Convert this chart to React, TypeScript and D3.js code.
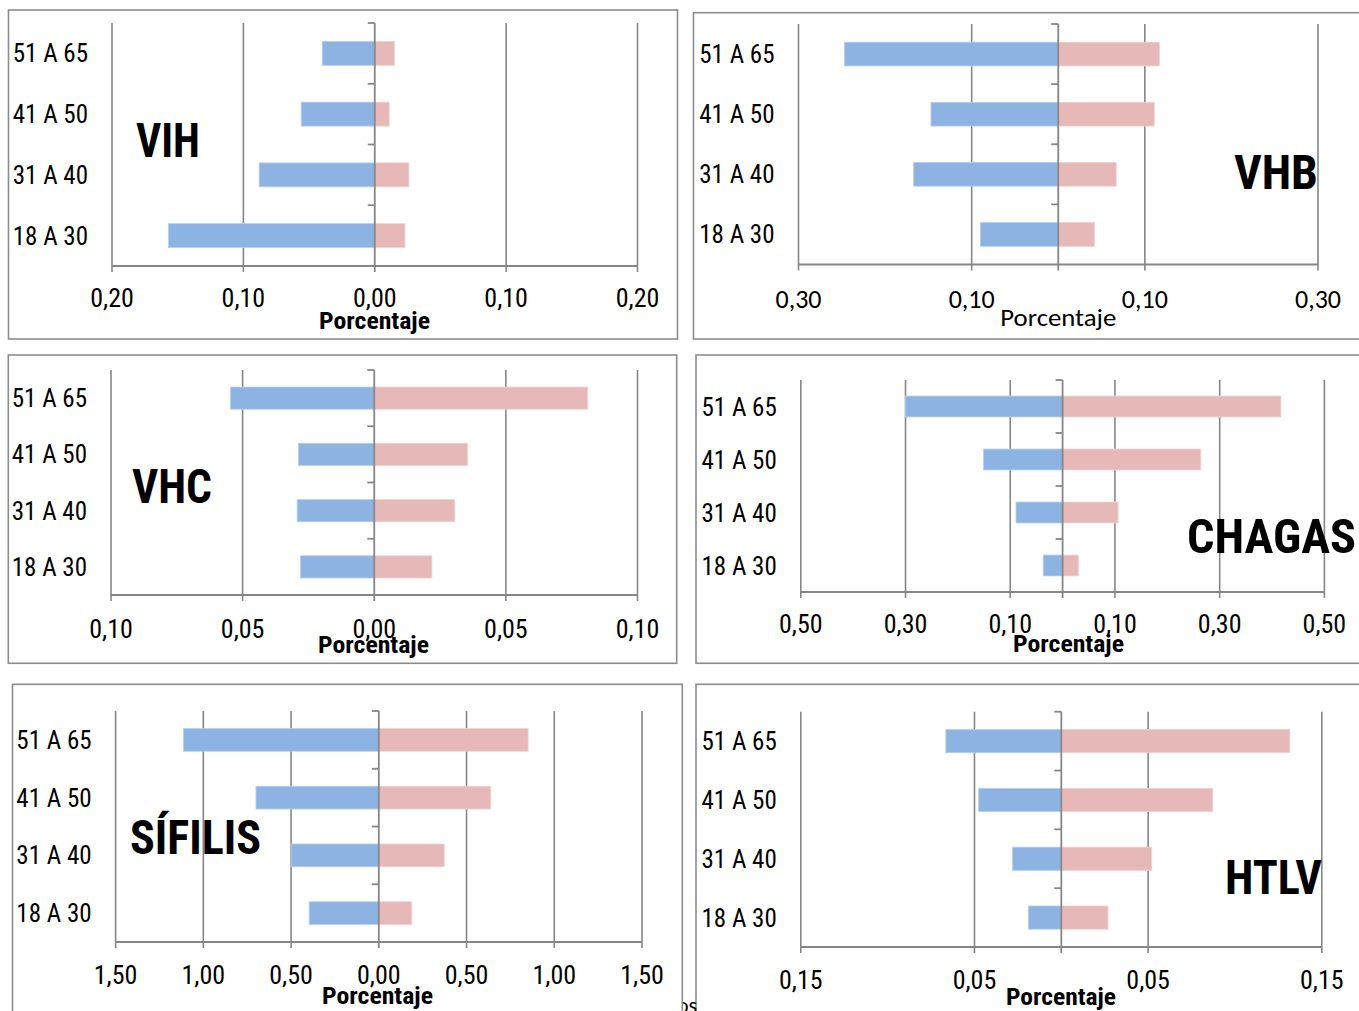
import React from "react";
import * as d3 from "d3";

// ---------- DATA ----------
const categories = ["51 A 65", "41 A 50", "31 A 40", "18 A 30"];

const vihBlue = [0.04, 0.056, 0.088, 0.157];
const vihPink = [0.015, 0.011, 0.026, 0.023];
const vihTicks = [-0.2, -0.1, 0, 0.1, 0.2];

const vhbBlue = [0.247, 0.147, 0.167, 0.09];
const vhbPink = [0.117, 0.111, 0.067, 0.042];
const vhbTicks = [-0.3, -0.1, 0.1, 0.3];

const vhcBlue = [0.0546, 0.0288, 0.0293, 0.028];
const vhcPink = [0.0811, 0.0355, 0.0306, 0.0219];
const vhcTicks = [-0.1, -0.05, 0, 0.05, 0.1];

const chagasBlue = [0.3, 0.151, 0.089, 0.037];
const chagasPink = [0.417, 0.264, 0.106, 0.03];
const chagasTicks = [-0.5, -0.3, -0.1, 0.1, 0.3, 0.5];

const sifilisBlue = [1.114, 0.7, 0.5, 0.397];
const sifilisPink = [0.851, 0.638, 0.373, 0.188];
const sifilisTicks = [-1.5, -1.0, -0.5, 0, 0.5, 1.0, 1.5];

const htlvBlue = [0.0665, 0.0476, 0.0281, 0.0189];
const htlvPink = [0.1316, 0.0872, 0.0521, 0.0269];
const htlvTicks = [-0.15, -0.05, 0.05, 0.15];

const axisTitle = "Porcentaje";

// ---------- STYLE ----------
const BLUE = "#8db3e2";
const PINK = "#e6b9b8";
const GRID = "#868686";
const FRAME = "#8c8c8c";
const NARROW = "'Liberation Sans Narrow', 'Arial Narrow', 'Roboto Condensed', sans-serif";
const CAL = "Carlito, Calibri, Lato, sans-serif";

type Layout = {
  frame: [number, number, number, number];
  px0: number; px1: number; py0: number; py1: number;
  tickY: number; tickFont: string; tickSize: number;
  titleX: number; titleY: number; titleW: number;
  pctX: number; pctY: number; pctBold: boolean; pctW: number;
  name: string;
};

function fmt(v: number) {
  return Math.abs(v).toFixed(2).replace(".", ",");
}

function Panel({ L, blue, pink, ticks, max }: { L: Layout; blue: number[]; pink: number[]; ticks: number[]; max: number }) {
  const x = d3.scaleLinear().domain([-max, max]).range([L.px0, L.px1]);
  const y = d3.scaleBand<string>().domain(categories).range([L.py0, L.py1]).paddingInner(0.605).paddingOuter(0.3025);
  const step = y.step();
  const z = x(0);
  const [fx0, fy0, fx1, fy1] = L.frame;
  const bounds = d3.range(categories.length).map((i) => L.py0 + i * step);
  return (
    <g>
      <rect x={fx0} y={fy0} width={fx1 - fx0} height={fy1 - fy0} fill="#fff" stroke={FRAME} strokeWidth={1.6} />
      {ticks.filter((t) => t !== 0).map((t, i) => (
        <line key={"g" + i} x1={x(t)} x2={x(t)} y1={L.py0} y2={L.py1 + 6} stroke={GRID} strokeWidth={1.6} />
      ))}
      {categories.map((c, i) => (
        <g key={c}>
          <rect x={x(-blue[i])} y={y(c)!} width={z - x(-blue[i])} height={y.bandwidth()} fill={BLUE} stroke="#b9d0ee" strokeWidth={0.8} />
          <rect x={z} y={y(c)!} width={x(pink[i]) - z} height={y.bandwidth()} fill={PINK} stroke="#f0d3d2" strokeWidth={0.8} />
          <text x={L.px0 - 24} y={y(c)! + y.bandwidth() / 2} dy="0.36em" textAnchor="end" fontFamily={NARROW} fontSize={25} fill="#000">{c}</text>
        </g>
      ))}
      <line x1={L.px0} x2={L.px1} y1={L.py1} y2={L.py1} stroke={GRID} strokeWidth={1.8} />
      <line x1={z} x2={z} y1={L.py0} y2={L.py1 + 6} stroke={GRID} strokeWidth={1.8} />
      {bounds.map((b, i) => (
        <line key={"t" + i} x1={z - 7} x2={z} y1={b} y2={b} stroke={GRID} strokeWidth={1.8} />
      ))}
      {ticks.map((t, i) => (
        <text key={"l" + i} x={x(t)} y={L.tickY} textAnchor="middle" fontFamily={L.tickFont} fontSize={L.tickSize} fill="#000">{fmt(t)}</text>
      ))}
      <text x={L.pctX} y={L.pctY} textAnchor="middle" fontFamily={L.pctBold ? NARROW : CAL} fontWeight={L.pctBold ? "bold" : "normal"} fontSize={24} textLength={L.pctW} lengthAdjust="spacingAndGlyphs" fill="#000">{axisTitle}</text>
      <text x={L.titleX} y={L.titleY} fontFamily={NARROW} fontWeight="bold" fontSize={48} textLength={L.titleW} lengthAdjust="spacingAndGlyphs" fill="#000">{L.name}</text>
    </g>
  );
}

const layouts: Record<string, Layout> = {
  vih: { frame: [8.5, 10, 677.5, 339], px0: 112, px1: 637.5, py0: 23, py1: 266, tickY: 307, tickFont: NARROW, tickSize: 26, titleX: 136, titleY: 157, titleW: 64, pctX: 374.5, pctY: 328.5, pctBold: true, pctW: 111, name: "VIH" },
  vhb: { frame: [693.5, 12.7, 1368, 339], px0: 798.5, px1: 1318, py0: 24, py1: 264.5, tickY: 307.5, tickFont: CAL, tickSize: 26, titleX: 1234, titleY: 189, titleW: 84, pctX: 1058.3, pctY: 326, pctBold: false, pctW: 116, name: "VHB" },
  vhc: { frame: [8.3, 355, 676.7, 663.3], px0: 111, px1: 637.5, py0: 370, py1: 595, tickY: 638, tickFont: NARROW, tickSize: 26, titleX: 132, titleY: 503, titleW: 80, pctX: 373.5, pctY: 653, pctBold: true, pctW: 111, name: "VHC" },
  chagas: { frame: [696, 355, 1368, 663.3], px0: 800.8, px1: 1324.4, py0: 380, py1: 592, tickY: 633, tickFont: NARROW, tickSize: 26, titleX: 1187, titleY: 553, titleW: 169, pctX: 1068.5, pctY: 652, pctBold: true, pctW: 111, name: "CHAGAS" },
  sifilis: { frame: [12.5, 684.3, 682.3, 1030], px0: 115.6, px1: 642, py0: 711, py1: 942, tickY: 983.5, tickFont: NARROW, tickSize: 26, titleX: 130, titleY: 854, titleW: 131, pctX: 377.5, pctY: 1004, pctBold: true, pctW: 111, name: "SÍFILIS" },
  htlv: { frame: [696, 684.3, 1368, 1030], px0: 800.8, px1: 1321.8, py0: 711.7, py1: 947, tickY: 989, tickFont: NARROW, tickSize: 26, titleX: 1225, titleY: 894, titleW: 97, pctX: 1061, pctY: 1005, pctBold: true, pctW: 110, name: "HTLV" },
};

export default function App() {
  return (
    <svg width={1359} height={1011} style={{ position: "absolute", left: 0, top: 0, background: "#fff" }}>
      <rect x={0} y={0} width={1359} height={1011} fill="#fff" />
      <Panel L={layouts.vih} blue={vihBlue} pink={vihPink} ticks={vihTicks} max={0.2} />
      <Panel L={layouts.vhb} blue={vhbBlue} pink={vhbPink} ticks={vhbTicks} max={0.3} />
      <Panel L={layouts.vhc} blue={vhcBlue} pink={vhcPink} ticks={vhcTicks} max={0.1} />
      <Panel L={layouts.chagas} blue={chagasBlue} pink={chagasPink} ticks={chagasTicks} max={0.5} />
      <Panel L={layouts.htlv} blue={htlvBlue} pink={htlvPink} ticks={htlvTicks} max={0.15} />
      <text x={677} y={1013} fontFamily={CAL} fontSize={22} fill="#000">os</text>
      <Panel L={layouts.sifilis} blue={sifilisBlue} pink={sifilisPink} ticks={sifilisTicks} max={1.5} />
    </svg>
  );
}
